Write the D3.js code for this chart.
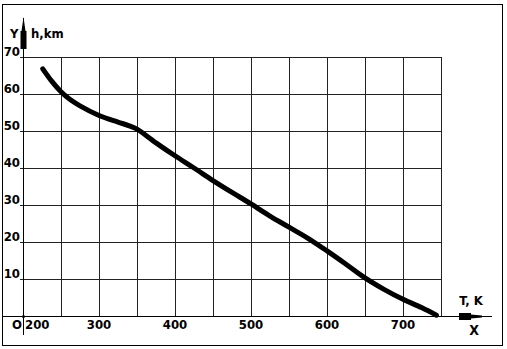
<!DOCTYPE html>
<html>
<head>
<meta charset="utf-8">
<script src="https://cdn.jsdelivr.net/npm/d3@7"></script>
<style>
  body { margin: 0; background: #fff; }
  text { font-family: "DejaVu Sans Condensed", "Liberation Sans Narrow", sans-serif; font-stretch: condensed; font-weight: bold; fill: #000; }
</style>
</head>
<body>
<div id="chart"></div>
<script>
const width = 507;
const height = 349;

// temperature (K) vs altitude (km)
const temps =   [226, 238, 250, 262, 275, 300, 325, 340, 350, 375, 400, 425, 450, 475, 500, 525, 550, 575, 600, 625, 650, 675, 700, 725, 744];
const heights = [66.8, 63.4, 60.6, 58.5, 56.8, 54.2, 52.4, 51.4, 50.5, 46.8, 43.3, 40, 36.6, 33.4, 30.3, 27, 24, 21, 17.6, 14, 10.3, 7.2, 4.5, 2.2, 0.2];

const xTicks = [200, 300, 400, 500, 600, 700];
const xGrid = [250, 300, 350, 400, 450, 500, 550, 600, 650, 700, 750];
const yTicks = [10, 20, 30, 40, 50, 60, 70];

const svg = d3.select("#chart")
    .append("svg")
    .attr("width", width)
    .attr("height", height);

const x = d3.scaleLinear().domain([200, 750]).range([23, 441]);
const y = d3.scaleLinear().domain([0, 70]).range([316, 57]);

// outer frame
svg.append("rect")
    .attr("x", 2.5).attr("y", 4.5)
    .attr("width", 500).attr("height", 341)
    .attr("fill", "none").attr("stroke", "#000").attr("stroke-width", 1);

// grid
svg.append("g").selectAll("line")
    .data(xGrid)
    .join("line")
    .attr("x1", d => Math.round(x(d)) + 0.5).attr("x2", d => Math.round(x(d)) + 0.5)
    .attr("y1", y(70)).attr("y2", y(0))
    .attr("stroke", "#222").attr("stroke-width", 1);

svg.append("g").selectAll("line")
    .data(yTicks)
    .join("line")
    .attr("x1", x(200) - 3).attr("x2", x(750))
    .attr("y1", d => Math.round(y(d)) + 0.5).attr("y2", d => Math.round(y(d)) + 0.5)
    .attr("stroke", "#222").attr("stroke-width", 1);

// axes
const x0 = Math.round(x(200)) + 0.5, y0 = Math.round(y(0)) + 0.5;
svg.append("line")
    .attr("x1", 3).attr("x2", 492).attr("y1", y0).attr("y2", y0)
    .attr("stroke", "#000");
svg.append("line")
    .attr("x1", x0).attr("x2", x0).attr("y1", 18).attr("y2", 335)
    .attr("stroke", "#000");

// arrow heads
svg.append("path")
    .attr("d", `M${x0},17 L${x0 + 2},31 L${x0 - 2},31 Z`)
    .attr("fill", "#000");
svg.append("rect")
    .attr("x", x0 - 3).attr("y", 31).attr("width", 6).attr("height", 18)
    .attr("fill", "#000");
svg.append("rect")
    .attr("x", 459).attr("y", y0 - 3.5).attr("width", 12).attr("height", 7)
    .attr("fill", "#000");
svg.append("path")
    .attr("d", `M471,${y0 - 2} L482,${y0 - 1} L482,${y0 + 1} L471,${y0 + 2} Z`)
    .attr("fill", "#000");
svg.append("circle").attr("cx", x0).attr("cy", y0).attr("r", 1.5).attr("fill", "#000");

// tick labels
svg.append("g").selectAll("text")
    .data(yTicks)
    .join("text")
    .attr("x", 20).attr("y", d => y(d) - 1)
    .attr("text-anchor", "end")
    .attr("font-size", 13)
    .text(d => d);

svg.append("g").selectAll("text")
    .data(xTicks)
    .join("text")
    .attr("x", d => d === 200 ? x(d) + 2 : x(d))
    .attr("y", 329)
    .attr("text-anchor", d => d === 200 ? "start" : "middle")
    .attr("font-size", 13)
    .text(d => d);

svg.append("text").attr("x", 12).attr("y", 329).attr("font-size", 13).text("O");

// axis titles
svg.append("text").attr("x", 10).attr("y", 38).attr("font-size", 13).text("Y");
svg.append("text").attr("x", 31).attr("y", 38).attr("font-size", 13).text("h,km");
svg.append("text").attr("x", 471).attr("y", 305).attr("text-anchor", "middle").attr("font-size", 13).text("T, K");
svg.append("text").attr("x", 474).attr("y", 335).attr("text-anchor", "middle").attr("font-size", 14).text("X");

// curve
const line = d3.line()
    .x((d, i) => x(temps[i]))
    .y(d => y(d))
    .curve(d3.curveCatmullRom);

svg.append("path")
    .datum(heights)
    .attr("d", line)
    .attr("fill", "none")
    .attr("stroke", "#000")
    .attr("stroke-width", 5)
    .attr("stroke-linecap", "round")
    .attr("stroke-linejoin", "round");
</script>
</body>
</html>
